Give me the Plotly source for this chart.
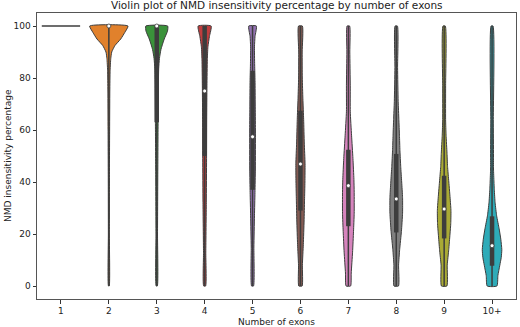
import plotly.graph_objects as go

# categories and the summary statistics
categories = ["1", "2", "3", "4", "5", "6", "7", "8", "9", "10+"]
colors = ["#3274a1", "#e1812c", "#3a923a", "#c03d3e", "#9372b2",
          "#845b53", "#d684bd", "#7f7f7f", "#a9aa35", "#2eabb8"]
q1 = [100, 100, 63, 50, 37, 29, 23, 20.6, 18.3, 7.8]
median = [100, 100, 100, 75, 57.4, 46.9, 38.6, 33.5, 29.6, 15.5]
q3 = [100, 100, 100, 100, 82.8, 67.4, 52.4, 50.8, 42.4, 26.8]
whisker_lo = [100, 0, 0, 0, 0, 0, 0, 0, 0, 0]
whisker_hi = [100, 100, 100, 100, 100, 100, 100, 100, 100, 100]

# violin outlines: percentage levels and relative density (1 = widest violin)
levels_2 = [100, 97.5, 95, 92.5, 90, 87.5, 83, 75, 60, 40, 20, 0]
dens_2 = [1.0, 0.83, 0.62, 0.32, 0.15, 0.10, 0.066, 0.05, 0.04, 0.03, 0.025, 0.02]
levels_3 = [100, 98, 95, 91, 87.5, 83.5, 77, 64, 45, 20, 0]
dens_3 = [0.57, 0.56, 0.39, 0.22, 0.14, 0.10, 0.086, 0.071, 0.056, 0.04, 0.03]
levels_4 = [100, 96, 92, 87, 77, 64, 49, 32, 13, 0]
dens_4 = [0.34, 0.25, 0.17, 0.14, 0.12, 0.107, 0.10, 0.086, 0.06, 0.05]
levels_5 = [100, 96, 92, 85, 79, 70, 60, 45, 36, 27, 15, 0]
dens_5 = [0.2, 0.13, 0.10, 0.11, 0.13, 0.14, 0.15, 0.147, 0.127, 0.10, 0.07, 0.05]
levels_6 = [100, 90, 80, 72, 64, 55, 47, 40, 33, 25, 16, 8, 0]
dens_6 = [0.10, 0.09, 0.096, 0.127, 0.167, 0.20, 0.24, 0.234, 0.213, 0.19, 0.15, 0.10, 0.086]
levels_7 = [100, 90, 77, 67, 58, 49, 41, 36, 28, 21, 13, 5, 0]
dens_7 = [0.066, 0.076, 0.10, 0.10, 0.167, 0.24, 0.29, 0.305, 0.305, 0.27, 0.22, 0.15, 0.117]
levels_8 = [100, 84, 71, 64, 58, 52, 46, 40, 34, 28, 21, 14, 8, 0]
dens_8 = [0.06, 0.07, 0.10, 0.137, 0.167, 0.193, 0.233, 0.284, 0.33, 0.33, 0.27, 0.178, 0.122, 0.117]
levels_9 = [100, 77, 64, 58, 51, 46, 40, 33, 29, 24, 20, 14, 8, 0]
dens_9 = [0.06, 0.076, 0.076, 0.10, 0.15, 0.178, 0.244, 0.32, 0.355, 0.345, 0.305, 0.24, 0.16, 0.142]
levels_10 = [100, 64, 50, 45, 40, 37, 32, 27, 22, 18, 14, 11, 8, 4, 0]
dens_10 = [0.05, 0.066, 0.076, 0.076, 0.10, 0.117, 0.16, 0.24, 0.37, 0.457, 0.51, 0.48, 0.406, 0.305, 0.254]

violins = {
    1: (levels_2, dens_2), 2: (levels_3, dens_3), 3: (levels_4, dens_4),
    4: (levels_5, dens_5), 5: (levels_6, dens_6), 6: (levels_7, dens_7),
    7: (levels_8, dens_8), 8: (levels_9, dens_9), 9: (levels_10, dens_10),
}

GRAY = "#3d3d3d"
HALF = 0.4  # half of the 0.8 category width

fig = go.Figure()

# category 1 has a single value -> seaborn draws a flat line
fig.add_trace(go.Scatter(x=[0 - HALF, 0 + HALF], y=[median[0], median[0]],
                         mode="lines", line=dict(color=GRAY, width=1.3),
                         hoverinfo="skip", showlegend=False))

for i, (lev, dens) in violins.items():
    left = [i - d * HALF for d in dens]
    right = [i + d * HALF for d in dens]
    xs = left + right[::-1]
    ys = lev + lev[::-1]
    fig.add_trace(go.Scatter(
        x=xs + [xs[0]], y=ys + [ys[0]], mode="lines", fill="toself",
        fillcolor=colors[i], line=dict(color=GRAY, width=1, shape="spline", smoothing=0.5),
        hoverinfo="skip", showlegend=False))
    # whisker
    fig.add_trace(go.Scatter(x=[i, i], y=[whisker_lo[i], whisker_hi[i]], mode="lines",
                             line=dict(color=GRAY, width=1.5), hoverinfo="skip",
                             showlegend=False))
    # box
    fig.add_trace(go.Scatter(x=[i, i], y=[q1[i], q3[i]], mode="lines",
                             line=dict(color=GRAY, width=4.5), hoverinfo="skip",
                             showlegend=False))

# medians
fig.add_trace(go.Scatter(x=list(range(1, 10)), y=median[1:], mode="markers",
                         marker=dict(color="white", size=4, line=dict(color=GRAY, width=0.8)),
                         hoverinfo="skip", showlegend=False))

font = "DejaVu Sans"
txt = "#222222"
fig.update_layout(
    width=520, height=327,
    margin=dict(l=37, r=4, t=13, b=28),
    plot_bgcolor="white", paper_bgcolor="white",
    font=dict(family=font, size=9, color=txt),
    annotations=[
        dict(text="Violin plot of NMD insensitivity percentage by number of exons",
             xref="paper", yref="paper", x=0.5, y=1 + 7.5 / 286, xanchor="center",
             yanchor="middle", showarrow=False, font=dict(size=10.5, color=txt)),
        dict(text="Number of exons", xref="paper", yref="paper", x=0.5,
             y=-(322 - 299) / 286, xanchor="center", yanchor="middle",
             showarrow=False, font=dict(size=9, color=txt)),
        dict(text="NMD insensitivity percentage", xref="paper", yref="paper",
             x=-(37 - 8) / 479, y=0.5, xanchor="center", yanchor="middle",
             textangle=-90, showarrow=False, font=dict(size=9, color=txt)),
    ],
)
fig.update_xaxes(
    range=[-0.5, 9.5], tickmode="array", tickvals=list(range(10)), ticktext=categories,
    showgrid=False, zeroline=False, showline=True, mirror=True, linecolor="#555555",
    linewidth=1, ticks="outside", ticklen=3.5, tickcolor="#333333", automargin=False,
)
fig.update_yaxes(
    range=[-5, 105], tickvals=[0, 20, 40, 60, 80, 100],
    showgrid=False, zeroline=False, showline=True, mirror=True, linecolor="#555555",
    linewidth=1, ticks="outside", ticklen=3.5, tickcolor="#333333", automargin=False,
)

# drop the default page margin so the 520x327 figure fills the window
fig.write_html("out.html", config={"displayModeBar": False},
               post_script="document.body.style.margin='0';")
